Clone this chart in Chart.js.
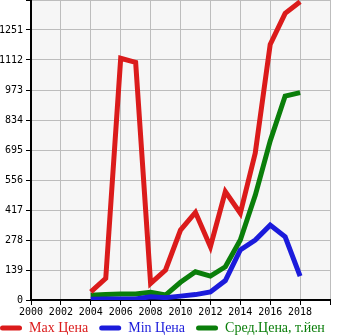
<!DOCTYPE html>
<html>
<head>
<meta charset="utf-8">
<script src="https://cdn.jsdelivr.net/npm/chart.js@4"></script>
<style>
  html, body { margin: 0; padding: 0; background: #fff; }
  #wrap { width: 345px; height: 335px; }
</style>
</head>
<body>
<div id="wrap"><canvas id="chart" width="345" height="335"></canvas></div>
<script>
// price history by year
const years = [2004, 2005, 2006, 2007, 2008, 2009, 2010, 2011, 2012, 2013, 2014, 2015, 2016, 2017, 2018];
const maxPrice = [38, 100, 1120, 1101, 77, 139, 324, 406, 247, 502, 402, 681, 1184, 1328, 1382];
const minPrice = [3, 5, 5, 5, 15, 11, 18, 25, 37, 90, 232, 278, 347, 293, 111];
const avgPrice = [22, 25, 28, 28, 36, 23, 82, 131, 111, 154, 278, 485, 737, 945, 961];
const seriesNames = ['Max Цена', 'Min Цена', 'Сред.Цена, т.йен'];
const seriesColors = ['#db1b1b', '#1b1bdb', '#0a7e0a'];

const yStep = 139;
const yMax = 1390;

// grey plot background
const plotBg = {
    id: 'plotBg',
    beforeDraw(chart) {
        const a = chart.chartArea;
        const ctx = chart.ctx;
        ctx.save();
        ctx.fillStyle = '#f6f6f6';
        ctx.fillRect(a.left, a.top, a.right - a.left, a.bottom - a.top);
        ctx.restore();
    }
};

// compact single-row legend, drawn flush left near the bottom edge
const legendTweak = {
    id: 'legendTweak',
    afterInit(chart) {
        const lg = chart.legend;
        const fit = lg.fit;
        lg.fit = function () {
            this.maxWidth = 400;
            fit.call(this);
            this.height = 19;
        };
    },
    beforeDraw(chart) {
        chart.legend.left = -11;
        chart.legend.top = 310;
    }
};

function makeSet(i, values) {
    return {
        label: seriesNames[i],
        data: values,
        borderColor: seriesColors[i],
        backgroundColor: seriesColors[i],
        borderWidth: 5,
        pointRadius: 0,
        tension: 0,
        fill: false
    };
}

const ctx = document.getElementById('chart').getContext('2d');
new Chart(ctx, {
    type: 'line',
    data: {
        labels: years,
        datasets: [makeSet(0, maxPrice), makeSet(1, minPrice), makeSet(2, avgPrice)]
    },
    options: {
        responsive: false,
        animation: false,
        layout: { padding: 0 },
        plugins: {
            tooltip: { enabled: false },
            legend: {
                position: 'bottom',
                align: 'start',
                labels: {
                    boxWidth: 22,
                    boxHeight: 5,
                    padding: 11,
                    useBorderRadius: true,
                    borderRadius: 2.5,
                    font: { family: 'Liberation Serif', size: 14 },
                    generateLabels(chart) {
                        const items = Chart.defaults.plugins.legend.labels.generateLabels(chart);
                        items.forEach((it, i) => {
                            it.fontColor = seriesColors[i];
                            it.fillStyle = seriesColors[i];
                            it.lineWidth = 0;
                        });
                        return items;
                    }
                }
            }
        },
        scales: {
            x: {
                type: 'linear',
                min: 2000,
                max: 2020,
                afterFit(s) {
                    s.height = 16;
                    s.paddingLeft = 0;
                    s.paddingRight = 0;
                },
                ticks: {
                    stepSize: 2,
                    padding: 1,
                    color: '#000',
                    maxRotation: 0,
                    autoSkip: false,
                    font: { family: 'DejaVu Sans Mono', size: 10 },
                    callback: v => (v >= 2020 ? '' : String(v))
                },
                grid: { color: '#bdbdbd', tickColor: '#000', tickLength: 5 },
                border: { color: '#000', width: 2 }
            },
            y: {
                min: 0,
                max: yMax,
                afterFit(s) {
                    s.width = 31;
                    s.paddingTop = 0;
                    s.paddingBottom = 0;
                },
                ticks: {
                    stepSize: yStep,
                    padding: 3,
                    color: '#000',
                    font: { family: 'DejaVu Sans Mono', size: 10 },
                    callback: v => (v >= yMax ? '' : String(v))
                },
                grid: { color: '#bdbdbd', tickColor: '#000', tickLength: 5 },
                border: { color: '#000', width: 2 }
            },
            // empty right-hand margin
            yRight: {
                position: 'right',
                afterFit(s) { s.width = 15; },
                ticks: { display: false },
                grid: { display: false, drawTicks: false },
                border: { display: false }
            }
        }
    },
    plugins: [plotBg, legendTweak]
});
</script>
</body>
</html>
